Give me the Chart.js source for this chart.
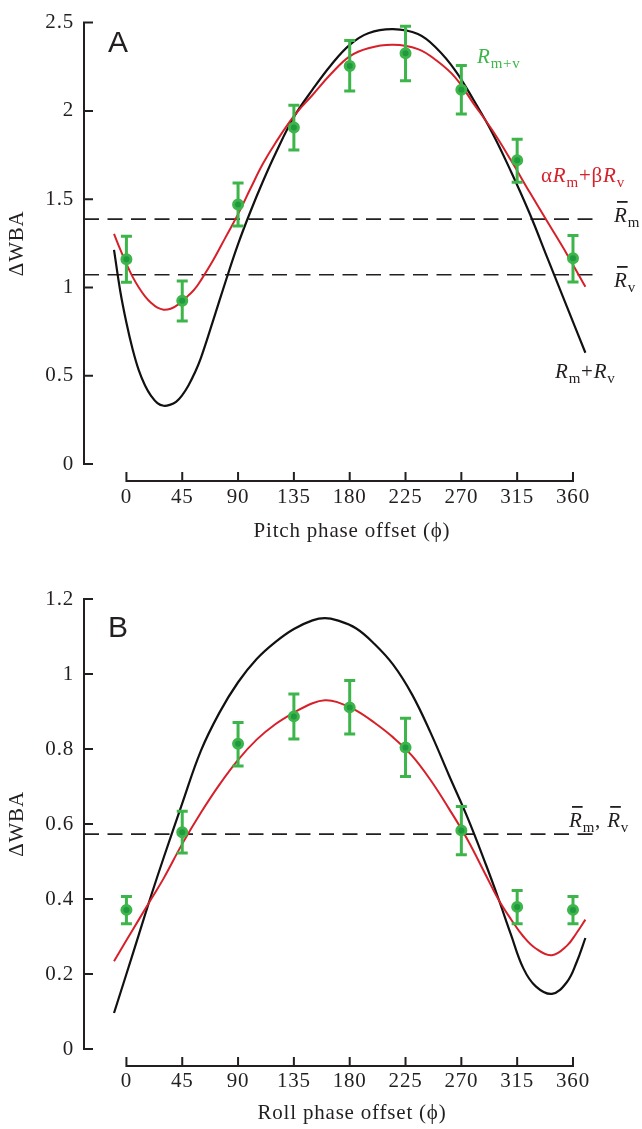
<!DOCTYPE html>
<html>
<head>
<meta charset="utf-8">
<script src="https://cdn.jsdelivr.net/npm/chart.js@4.4.1/dist/chart.umd.min.js"></script>
<style>
  body { margin: 0; background: #fff; }
  canvas { position: absolute; left: 0; }
  #pitch { top: 0; }
  #roll { top: 560px; }
</style>
</head>
<body>
<canvas id="pitch" width="642" height="560"></canvas>
<canvas id="roll" width="642" height="569"></canvas>
<script>
const phaseTicks = [0, 45, 90, 135, 180, 225, 270, 315, 360];

// panel A - pitch
const pitchMeasured = [1.16, 0.924, 1.47, 1.906, 2.254, 2.326, 2.12, 1.72, 1.165];
const pitchLow = [1.03, 0.81, 1.348, 1.778, 2.113, 2.17, 1.983, 1.596, 1.031];
const pitchHigh = [1.29, 1.037, 1.591, 2.032, 2.398, 2.48, 2.257, 1.84, 1.294];
const pitchCurveX = [-10, -5, 0, 5, 10, 15, 20, 25, 30, 35, 40, 45, 50, 55, 60, 70, 80, 90, 100, 110, 120, 135, 150, 165, 180, 195, 215, 235, 250, 265, 280, 295, 310, 325, 340, 355, 370];
const pitchSum = [1.213, 0.98, 0.80, 0.65, 0.53, 0.445, 0.385, 0.345, 0.33, 0.335, 0.352, 0.39, 0.445, 0.515, 0.60, 0.815, 1.035, 1.245, 1.43, 1.60, 1.756, 1.965, 2.12, 2.26, 2.374, 2.44, 2.463, 2.435, 2.355, 2.23, 2.06, 1.875, 1.657, 1.42, 1.156, 0.893, 0.63];
const pitchFit = [1.304, 1.215, 1.133, 1.06, 1.00, 0.95, 0.912, 0.885, 0.874, 0.878, 0.895, 0.92, 0.955, 0.99, 1.04, 1.155, 1.285, 1.415, 1.56, 1.70, 1.817, 1.97, 2.09, 2.21, 2.309, 2.355, 2.374, 2.35, 2.285, 2.19, 2.04, 1.89, 1.72, 1.54, 1.365, 1.19, 1.004];
const pitchMeanM = 1.387;
const pitchMeanV = 1.072;

// panel B - roll
const rollMeasured = [0.371, 0.578, 0.814, 0.887, 0.911, 0.804, 0.583, 0.379, 0.371];
const rollLow = [0.334, 0.523, 0.755, 0.827, 0.84, 0.727, 0.518, 0.334, 0.334];
const rollHigh = [0.407, 0.634, 0.871, 0.947, 0.983, 0.882, 0.647, 0.423, 0.407];
const rollCurveX = [-10, 0, 10, 20, 30, 45, 60, 75, 90, 105, 120, 135, 150, 160, 170, 185, 200, 215, 230, 245, 260, 275, 290, 300, 310, 320, 330, 343, 355, 363, 370];
const rollSum = [0.096, 0.20, 0.305, 0.41, 0.51, 0.655, 0.795, 0.897, 0.978, 1.04, 1.085, 1.12, 1.143, 1.149, 1.143, 1.122, 1.08, 1.025, 0.947, 0.845, 0.73, 0.617, 0.49, 0.40, 0.305, 0.215, 0.167, 0.147, 0.178, 0.232, 0.296];
const rollFit = [0.234, 0.29, 0.345, 0.40, 0.455, 0.547, 0.63, 0.705, 0.771, 0.825, 0.866, 0.897, 0.922, 0.93, 0.925, 0.903, 0.87, 0.831, 0.783, 0.718, 0.641, 0.558, 0.462, 0.398, 0.346, 0.30, 0.268, 0.25, 0.275, 0.31, 0.345];
const rollMean = 0.573;

const green = '#3db54a';
const red = '#d6202a';
const ink = '#231f20';
const serif = '"Liberation Serif", "Times New Roman", serif';
const spacing = '0.8px';

function pts(xs, ys) {
    return xs.map((x, i) => ({x: x, y: ys[i]}));
}

// the original type is a little wider than plain Times
const widen = {
    id: 'widen',
    beforeDraw(chart) {
        chart.ctx.letterSpacing = spacing;
    }
};

// detached axis lines with inward ticks
const spines = {
    id: 'spines',
    beforeDatasetsDraw(chart, args, o) {
        const {ctx, chartArea, scales: {x, y}} = chart;
        ctx.save();
        ctx.strokeStyle = ink;
        ctx.lineWidth = 2;
        ctx.beginPath();
        ctx.moveTo(chartArea.left, y.getPixelForValue(y.min) + 1);
        ctx.lineTo(chartArea.left, y.getPixelForValue(y.max) - 1);
        y.ticks.forEach(t => {
            const p = y.getPixelForValue(t.value);
            ctx.moveTo(chartArea.left, p);
            ctx.lineTo(chartArea.left + 9, p);
        });
        const xb = chartArea.bottom + o.gap;
        ctx.moveTo(x.getPixelForValue(phaseTicks[0]) - 1, xb);
        ctx.lineTo(x.getPixelForValue(phaseTicks[phaseTicks.length - 1]) + 1, xb);
        x.ticks.forEach(t => {
            const p = x.getPixelForValue(t.value);
            ctx.moveTo(p, xb);
            ctx.lineTo(p, xb - 9);
        });
        ctx.stroke();
        ctx.restore();
    }
};

const errorBars = {
    id: 'errorBars',
    beforeDatasetDraw(chart, args, o) {
        if (args.index !== 0) return;
        const {ctx, scales: {x, y}} = chart;
        ctx.save();
        ctx.strokeStyle = green;
        ctx.lineWidth = 3;
        o.low.forEach((lo, i) => {
            const px = x.getPixelForValue(phaseTicks[i]);
            const pl = y.getPixelForValue(lo);
            const ph = y.getPixelForValue(o.high[i]);
            ctx.beginPath();
            ctx.moveTo(px, pl); ctx.lineTo(px, ph);
            ctx.moveTo(px - 5.5, pl); ctx.lineTo(px + 5.5, pl);
            ctx.moveTo(px - 5.5, ph); ctx.lineTo(px + 5.5, ph);
            ctx.stroke();
        });
        ctx.restore();
    }
};

function drawRich(ctx, item) {
    let x = item.x;
    ctx.fillStyle = item.color || ink;
    ctx.textAlign = 'left';
    ctx.textBaseline = 'alphabetic';
    item.parts.forEach(p => {
        const size = p.sub ? 15 : 21;
        ctx.font = (p.it ? 'italic ' : '') + size + 'px ' + serif;
        ctx.fillText(p.t, x, item.y + (p.sub ? 5 : 0));
        const w = ctx.measureText(p.t).width;
        if (p.bar) ctx.fillRect(x + 3, item.y - 21, w - 3, 1.8);
        x += w;
    });
}

const labels = {
    id: 'labels',
    afterDraw(chart, args, o) {
        const ctx = chart.ctx;
        ctx.save();
        ctx.fillStyle = ink;
        ctx.font = '30px "Liberation Sans", Arial, sans-serif';
        ctx.textBaseline = 'alphabetic';
        ctx.letterSpacing = '0px';
        ctx.fillText(o.panel[0], o.panel[1], o.panel[2]);
        ctx.letterSpacing = spacing;
        o.items.forEach(it => drawRich(ctx, it));
        ctx.restore();
    }
};

function makePanel(id, cfg) {
    const font = {family: serif, size: 21};
    const dash = v => ({
        data: [{x: cfg.xMin, y: v}, {x: cfg.dashEnd, y: v}],
        showLine: true, borderColor: ink, borderWidth: 1.6,
        borderDash: [15, 8.5], pointRadius: 0
    });
    const datasets = [
        {
            data: pts(phaseTicks, cfg.measured),
            pointRadius: 4.5, pointBorderWidth: 3,
            pointBackgroundColor: '#1f9a3f', pointBorderColor: green
        },
        {
            data: pts(cfg.curveX, cfg.fit), showLine: true, borderColor: red,
            borderWidth: 2, pointRadius: 0, tension: 0.4
        },
        {
            data: pts(cfg.curveX, cfg.sum), showLine: true, borderColor: '#111',
            borderWidth: 2.2, pointRadius: 0, tension: 0.4
        }
    ].concat(cfg.means.map(dash));

    return new Chart(document.getElementById(id), {
        type: 'scatter',
        data: {datasets: datasets},
        options: {
            responsive: false,
            animation: false,
            devicePixelRatio: 1,
            layout: {padding: {top: cfg.top, right: 22, left: 0, bottom: 0}},
            scales: {
                x: {
                    type: 'linear', min: cfg.xMin, max: cfg.xMax,
                    afterBuildTicks: s => { s.ticks = phaseTicks.map(v => ({value: v})); },
                    afterFit: s => { s.height = cfg.xHeight; },
                    grid: {display: false, drawTicks: false},
                    border: {display: false},
                    ticks: {font: font, color: ink, padding: cfg.xPad, maxRotation: 0, autoSkip: false},
                    title: {display: true, text: cfg.xTitle, font: font, color: ink,
                            padding: {top: 0, bottom: cfg.titlePad}}
                },
                y: {
                    min: 0, max: cfg.yMax,
                    afterFit: s => { s.width = 84; },
                    grid: {display: false, drawTicks: false},
                    border: {display: false},
                    ticks: {
                        stepSize: cfg.step, font: font, color: ink, padding: 10,
                        callback: v => String(Math.round(v * 10) / 10)
                    },
                    title: {display: true, text: 'ΔWBA', font: font, color: ink,
                            padding: {top: 5, bottom: 0}}
                }
            },
            plugins: {
                legend: {display: false},
                tooltip: {enabled: false},
                spines: {gap: 17},
                errorBars: {low: cfg.low, high: cfg.high},
                labels: {panel: cfg.panel, items: cfg.items}
            }
        },
        plugins: [widen, spines, errorBars, labels]
    });
}

makePanel('pitch', {
    measured: pitchMeasured, low: pitchLow, high: pitchHigh,
    curveX: pitchCurveX, sum: pitchSum, fit: pitchFit,
    means: [pitchMeanM, pitchMeanV],
    xMin: -34.2, xMax: 397.9, dashEnd: 381.8, yMax: 2.5, step: 0.5,
    top: 14, xHeight: 96, xPad: 21, titlePad: 16,
    xTitle: 'Pitch phase offset (ϕ)',
    panel: ['A', 108, 52],
    items: [
        {x: 477, y: 63, color: green, parts: [{t: 'R', it: 1}, {t: 'm+v', sub: 1}]},
        {x: 541, y: 182, color: red, parts: [{t: 'α'}, {t: 'R', it: 1}, {t: 'm', sub: 1}, {t: '+'}, {t: 'β'}, {t: 'R', it: 1}, {t: 'v', sub: 1}]},
        {x: 614, y: 222, parts: [{t: 'R', it: 1, bar: 1}, {t: 'm', sub: 1}]},
        {x: 614, y: 287, parts: [{t: 'R', it: 1, bar: 1}, {t: 'v', sub: 1}]},
        {x: 555, y: 378, parts: [{t: 'R', it: 1}, {t: 'm', sub: 1}, {t: '+'}, {t: 'R', it: 1}, {t: 'v', sub: 1}]}
    ]
});

makePanel('roll', {
    measured: rollMeasured, low: rollLow, high: rollHigh,
    curveX: rollCurveX, sum: rollSum, fit: rollFit,
    means: [rollMean],
    xMin: -34.2, xMax: 397.9, dashEnd: 381.8, yMax: 1.2, step: 0.2,
    top: 39, xHeight: 80, xPad: 20, titlePad: 3,
    xTitle: 'Roll phase offset (ϕ)',
    panel: ['B', 108, 77],
    items: [
        {x: 569, y: 267, parts: [{t: 'R', it: 1, bar: 1}, {t: 'm', sub: 1}, {t: ', '}, {t: 'R', it: 1, bar: 1}, {t: 'v', sub: 1}]}
    ]
});
</script>
</body>
</html>
